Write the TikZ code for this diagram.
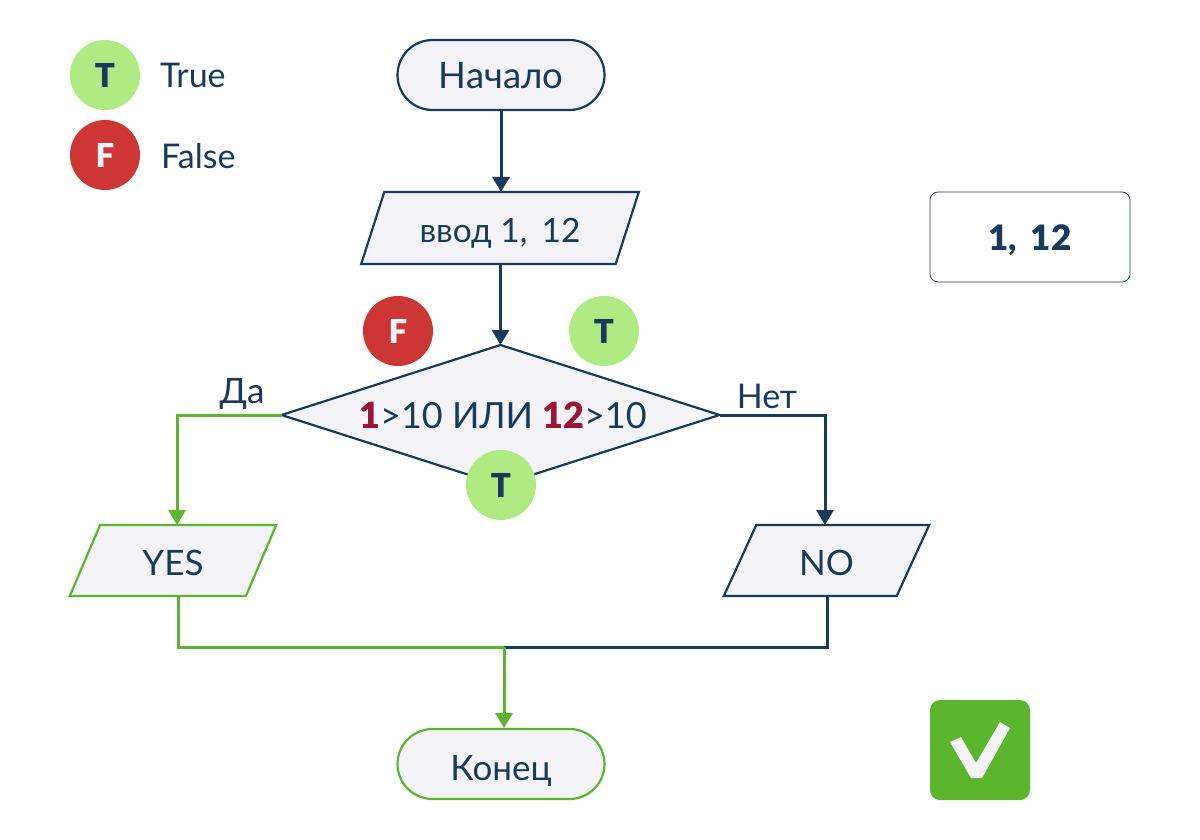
\documentclass[tikz,border=0pt]{standalone}
\usepackage{fontspec}
\setmainfont{Lato}
\newfontfamily\heavy{Lato Black}
\usetikzlibrary{shapes.geometric,arrows.meta}
\definecolor{navy}{HTML}{1A3A5C}
\definecolor{okgreen}{HTML}{5BB62E}
\definecolor{lightgreen}{HTML}{B0EA82}
\definecolor{badred}{HTML}{CE3636}
\definecolor{panel}{HTML}{F3F3F8}
\definecolor{crimson}{HTML}{9B1436}
\newcommand\dropped[2]{\raisebox{-#1pt}[18pt][18pt]{#2}}
\tikzset{
  x=1pt,y=-1pt,
  every node/.style={inner sep=0pt,outer sep=0pt,text=navy},
  terminal/.style={draw=navy,fill=panel,line width=2.2pt,rectangle,rounded corners=35pt,minimum width=207pt,minimum height=70pt,font=\fontsize{35}{35}\selectfont},
  iobox/.style={draw=navy,fill=panel,line width=2.2pt,trapezium,trapezium stretches=true,trapezium left angle=70.6,trapezium right angle=109.4,minimum height=71pt,font=\fontsize{35}{35}\selectfont},
  decision/.style={draw=navy,fill=panel,line width=2.2pt,diamond,minimum width=438pt,minimum height=140pt},
  tcirc/.style={circle,fill=lightgreen,minimum size=70pt,font=\fontsize{33}{33}\selectfont\heavy},
  fcirc/.style={circle,fill=badred,minimum size=70pt,text=panel,font=\fontsize{33}{33}\selectfont\heavy},
  flow/.style={draw=navy,line width=3pt,-{Triangle[length=15pt,width=17pt]}},
  flowplain/.style={draw=navy,line width=3pt},
  gflow/.style={draw=okgreen,line width=3pt,-{Triangle[length=15pt,width=17pt]}},
  gflowplain/.style={draw=okgreen,line width=3pt},
  txt/.style={font=\fontsize{34}{34}\selectfont},
}
\begin{document}
\begin{tikzpicture}
\useasboundingbox (0,0) rectangle (1200,840);
\fill[white] (0,0) rectangle (1200,840);
\node[tcirc] (lt) at (105,75) {T};
\node[fcirc] (lf) at (105,155) {F};
\node[txt,anchor=base west] (ltrue) at (160,88) {True};
\node[txt,anchor=base west] (lfalse) at (161,168) {False};
\node[terminal,font=\fontsize{36.5}{36.5}\selectfont] (start) at (501,75) {\dropped{14}{Начало}};
\node[iobox,trapezium left angle=66,trapezium right angle=114,minimum height=72pt,minimum width=278pt,font=\fontsize{33.5}{33.5}\selectfont] (input) at (500,228) {\dropped{14}{ввод 1,\, 12}};
\node[decision] (cond) at (500.5,415) {};
\node[font=\fontsize{36}{36}\selectfont,anchor=base] (condtext) at (503,428) {\textcolor{crimson}{\heavy 1}>10 ИЛИ \textcolor{crimson}{\heavy 12}>10};
\node[iobox,draw=okgreen,minimum width=208pt] (yes) at (173,560.5) {\dropped{14.5}{YES}};
\node[iobox,minimum width=207pt] (no) at (826.5,560.5) {\dropped{14.5}{NO}};
\node[terminal,draw=okgreen] (end) at (501,764) {\dropped{16}{Конец}};
\node[fcirc] (cf) at (398,331) {F};
\node[tcirc] (ct) at (604,331) {T};
\node[tcirc] (cb) at (501,485) {T};
\node[font=\fontsize{35}{35}\selectfont,anchor=base] (da) at (242,403) {Да};
\node[txt,anchor=base] (net) at (767,408) {Нет};
\node[draw=navy,fill=white,line width=.8pt,rounded corners=8pt,minimum width=200pt,minimum height=90pt,font=\fontsize{35}{35}\selectfont\heavy] (result) at (1030,237) {\dropped{13}{1,\, 12}};
\node[fill=okgreen,rounded corners=10pt,minimum size=100pt] (ok) at (980,750) {};
\fill[panel] (950,742) -- (961,737) -- (976,763) -- (1000,722) -- (1010,728) -- (982,778) -- (971,778) -- cycle;
\coordinate (merge) at (504,647);
\coordinate (yesout) at (178,596);
\coordinate (noout) at (827,596);
\coordinate (endin) at (504,728);
\draw[flow] (start.south) -- (input.north -| start.south);
\draw[flow] (input.south -| cond.north) -- (cond.north);
\draw[flow] (cond.east) -| (825,525);
\draw[gflow] (cond.west) -| (177,525);
\draw[flowplain] (noout) |- (merge);
\draw[gflowplain] (yesout) |- (merge);
\draw[gflow] (merge) -- (endin);
\end{tikzpicture}
\end{document}
